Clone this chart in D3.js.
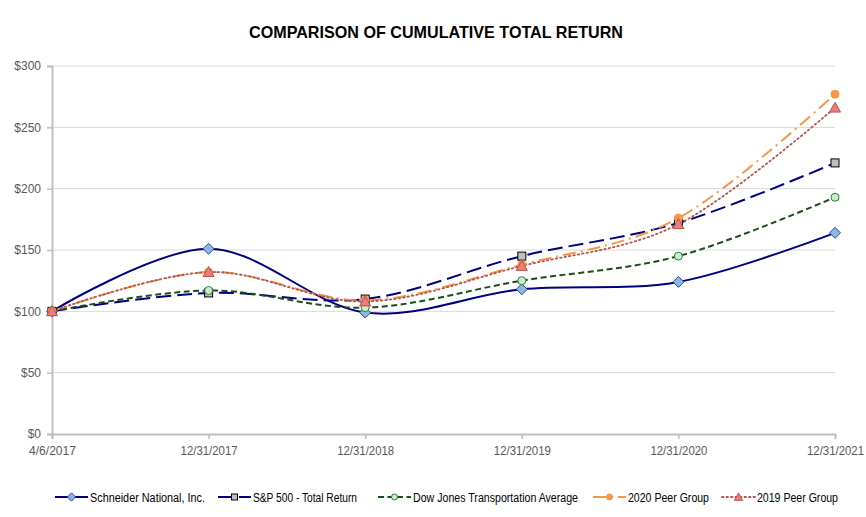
<!DOCTYPE html>
<html>
<head>
<meta charset="utf-8">
<script src="https://cdn.jsdelivr.net/npm/d3@7"></script>
<style>
  body { margin: 0; background: #fff; }
  svg { display: block; }
</style>
</head>
<body>
<div id="container"></div>
<script>
const width = 866;
const height = 517;

// data
const dates = ["4/6/2017", "12/31/2017", "12/31/2018", "12/31/2019", "12/31/2020", "12/31/2021"];
const schneider = [100, 151, 99, 118, 124, 164];
const sp500 = [100, 115, 110, 145, 172, 221];
const dowJones = [100, 117, 103, 125, 145, 193];
const peer2020 = [100, 132, 109, 138, 176, 277];
const peer2019 = [100, 132, 108, 137, 171, 266];
const yTicks = [0, 50, 100, 150, 200, 250, 300];

const series = [
  { name: "Schneider National, Inc.", values: schneider, color: "#000080", dash: null, width: 2,
    marker: "diamond", fill: "#8db4e2", stroke: "#1f4e9a", legendX: 55, textW: 115 },
  { name: "S&P 500 - Total Return", values: sp500, color: "#000080", dash: "15,6", width: 2,
    marker: "square", fill: "#bfbfbf", stroke: "#000000", legendX: 218, textW: 104 },
  { name: "Dow Jones Transportation Average", values: dowJones, color: "#1b4d1b", dash: "6,3.5", width: 2,
    marker: "circle", fill: "#c6efce", stroke: "#2e7d32", legendX: 378, textW: 165 },
  { name: "2020 Peer Group", values: peer2020, color: "#f79646", dash: "13,5,2,5", width: 2,
    marker: "dot", fill: "#f79646", stroke: "#f79646", legendX: 593, textW: 81 },
  { name: "2019 Peer Group", values: peer2019, color: "#b4544f", dash: "1.5,3", width: 1.8,
    marker: "triangle", fill: "#e6807a", stroke: "#c0504d", legendX: 722, textW: 81 }
];

const svg = d3.select("#container")
  .append("svg")
  .attr("width", width)
  .attr("height", height);

const x = d3.scalePoint().domain(dates).range([52, 835]);
const y = d3.scaleLinear().domain([0, 300]).range([434, 66]);

// title
svg.append("text")
  .attr("x", 436)
  .attr("y", 38)
  .attr("text-anchor", "middle")
  .style("font-family", "'Liberation Sans', Arial, sans-serif")
  .style("font-weight", "bold")
  .style("font-size", "16.5px")
  .attr("textLength", 374)
  .attr("lengthAdjust", "spacingAndGlyphs")
  .text("COMPARISON OF CUMULATIVE TOTAL RETURN");

// gridlines
svg.append("g")
  .selectAll("line")
  .data(yTicks.filter(d => d > 0))
  .enter()
  .append("line")
  .attr("x1", 52)
  .attr("x2", 835)
  .attr("y1", d => y(d))
  .attr("y2", d => y(d))
  .attr("stroke", "#d9d9d9")
  .attr("stroke-width", 1);

// y axis
const yAxis = svg.append("g")
  .attr("transform", "translate(52,0)")
  .call(d3.axisLeft(y).tickValues(yTicks).tickFormat(d => "$" + d).tickSize(5).tickPadding(6));

// x axis
const xAxis = svg.append("g")
  .attr("transform", "translate(0,434)")
  .call(d3.axisBottom(x).tickSize(5).tickPadding(7));

[yAxis, xAxis].forEach(g => {
  g.select(".domain").attr("stroke", "#bfbfbf").attr("stroke-width", 2);
  g.selectAll(".tick line").attr("stroke", "#bfbfbf").attr("stroke-width", 1.5);
  g.selectAll(".tick text")
    .attr("fill", "#595959")
    .style("font-family", "'Liberation Sans', Arial, sans-serif")
    .style("font-size", "12px");
});
xAxis.selectAll(".tick text")
  .attr("textLength", 57)
  .attr("lengthAdjust", "spacingAndGlyphs");
xAxis.selectAll(".tick text").filter(d => d === dates[0]).attr("textLength", 47);

const line = d3.line()
  .x((d, i) => x(dates[i]))
  .y(d => y(d))
  .curve(d3.curveCatmullRom.alpha(0));

function drawMarker(g, s, cx, cy, k) {
  k = k || 1;
  if (s.marker === "diamond") {
    const r = 5.5 * k;
    g.append("path")
      .attr("d", `M${cx},${cy - r}L${cx + r},${cy}L${cx},${cy + r}L${cx - r},${cy}Z`)
      .attr("fill", s.fill).attr("stroke", s.stroke).attr("stroke-width", 1);
  } else if (s.marker === "square") {
    const r = 4 * k;
    g.append("rect")
      .attr("x", cx - r).attr("y", cy - r).attr("width", 2 * r).attr("height", 2 * r)
      .attr("fill", s.fill).attr("stroke", s.stroke).attr("stroke-width", 1);
  } else if (s.marker === "circle" || s.marker === "dot") {
    g.append("circle")
      .attr("cx", cx).attr("cy", cy).attr("r", 4 * k)
      .attr("fill", s.fill).attr("stroke", s.stroke).attr("stroke-width", 1);
  } else if (s.marker === "triangle") {
    const r = 5.5 * k;
    g.append("path")
      .attr("d", `M${cx},${cy - r}L${cx + r},${cy + r * 0.8}L${cx - r},${cy + r * 0.8}Z`)
      .attr("fill", s.fill).attr("stroke", s.stroke).attr("stroke-width", 1);
  }
}

// lines
series.forEach(s => {
  svg.append("path")
    .datum(s.values)
    .attr("d", line)
    .attr("fill", "none")
    .attr("stroke", s.color)
    .attr("stroke-width", s.width)
    .attr("stroke-dasharray", s.dash)
    .attr("stroke-linecap", s.marker === "triangle" ? "round" : "butt");
});

// markers
series.forEach(s => {
  const g = svg.append("g");
  s.values.forEach((v, i) => drawMarker(g, s, x(dates[i]), y(v)));
});

// legend
const legendY = 497;
series.forEach(s => {
  const g = svg.append("g");
  g.append("line")
    .attr("x1", s.legendX)
    .attr("x2", s.legendX + 33)
    .attr("y1", legendY)
    .attr("y2", legendY)
    .attr("stroke", s.color)
    .attr("stroke-width", s.width)
    .attr("stroke-dasharray", s.dash)
    .attr("stroke-linecap", s.marker === "triangle" ? "round" : "butt");
  drawMarker(g, s, s.legendX + 16.5, legendY, 0.75);
  g.append("text")
    .attr("x", s.legendX + 35)
    .attr("y", legendY + 4.5)
    .style("font-family", "'Liberation Sans', Arial, sans-serif")
    .style("font-size", "12.5px")
    .attr("textLength", s.textW)
    .attr("lengthAdjust", "spacingAndGlyphs")
    .attr("fill", "#000")
    .text(s.name);
});
</script>
</body>
</html>
